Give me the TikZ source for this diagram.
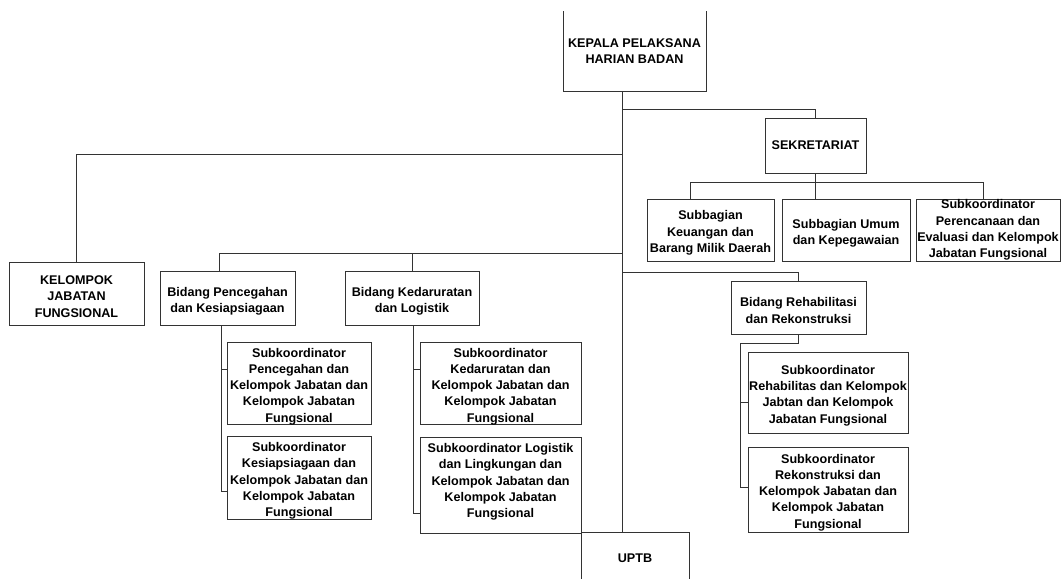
\documentclass[tikz,border=0pt]{standalone}
\usepackage{fontspec}
\setmainfont{Liberation Sans}
\newcommand{\lowstrut}{\rule{0pt}{15pt}}
\begin{document}
\begin{tikzpicture}[x=1pt,y=-1pt,
  box/.style={draw=black!80, line width=1pt, inner sep=0pt, align=center,
    font=\fontsize{12.6}{16.3}\selectfont\bfseries},
  high/.style={execute at end node={\rule[-9pt]{0pt}{1pt}}},
  link/.style={draw=black!80, line width=1pt}]

\useasboundingbox (0,0) rectangle (1062,578);
\clip (0,12) rectangle (1062,578);

% Pimpinan
  \node[box, minimum width=143pt, minimum height=80pt] (kepala) at (634.5,51) {KEPALA PELAKSANA\\HARIAN BADAN};
  \node[box, minimum width=101pt, minimum height=55pt] (sek) at (815.5,145.5) {SEKRETARIAT};
  \node[box, minimum width=135pt, minimum height=63pt] (kjf) at (76.5,293.5) {\lowstrut KELOMPOK\\JABATAN\\FUNGSIONAL};
  \node[box, minimum width=108pt, minimum height=52pt] (uptb) at (635,558) {UPTB};

% Sekretariat
  \node[box, minimum width=127pt, minimum height=62pt] (sb1) at (710.5,230) {\lowstrut Subbagian\\Keuangan dan\\Barang Milik Daerah};
  \node[box, minimum width=128pt, minimum height=62pt] (sb2) at (846,230) {\lowstrut Subbagian Umum\\dan Kepegawaian};
  \node[box, minimum width=144pt, minimum height=62pt] (sb3) at (988,230) {Subkoordinator\\Perencanaan dan\\Evaluasi dan Kelompok\\Jabatan Fungsional};

% Bidang
  \node[box, minimum width=135pt, minimum height=54pt] (bp) at (227.5,298) {\lowstrut Bidang Pencegahan\\dan Kesiapsiagaan};
  \node[box, minimum width=134pt, minimum height=54pt] (bk) at (412,298) {\lowstrut Bidang Kedaruratan\\dan Logistik};
  \node[box, minimum width=135pt, minimum height=53pt] (br) at (798.5,307.5) {\lowstrut Bidang Rehabilitasi\\dan Rekonstruksi};

  \node[box, minimum width=144pt, minimum height=81pt] (sp1) at (299,383.5) {\lowstrut Subkoordinator\\Pencegahan dan\\Kelompok Jabatan dan\\Kelompok Jabatan\\Fungsional};
  \node[box, minimum width=144pt, minimum height=82pt] (sp2) at (299,478) {\lowstrut Subkoordinator\\Kesiapsiagaan dan\\Kelompok Jabatan dan\\Kelompok Jabatan\\Fungsional};
  \node[box, minimum width=161pt, minimum height=81pt] (sk1) at (500.5,383.5) {\lowstrut Subkoordinator\\Kedaruratan dan\\Kelompok Jabatan dan\\Kelompok Jabatan\\Fungsional};
  \node[box, high, minimum width=161pt, minimum height=96pt] (sk2) at (500.5,485) {Subkoordinator Logistik\\dan Lingkungan dan\\Kelompok Jabatan dan\\Kelompok Jabatan\\Fungsional};
  \node[box, minimum width=160pt, minimum height=81pt] (sr1) at (828,392.5) {\lowstrut Subkoordinator\\Rehabilitas dan Kelompok\\Jabtan dan Kelompok\\Jabatan Fungsional};
  \node[box, minimum width=160pt, minimum height=85pt] (sr2) at (828,489.5) {\lowstrut Subkoordinator\\Rekonstruksi dan\\Kelompok Jabatan dan\\Kelompok Jabatan\\Fungsional};

% Garis
  \coordinate (trunk) at (622,91);
  \draw[link] (trunk) -- (uptb.north -| trunk);
  \draw[link] (trunk |- 0,109) -| (sek.north);
  \draw[link] (trunk |- 0,154) -| (kjf.north);
  \draw[link] (trunk |- 0,253) -| ([xshift=-8.5pt]bp.north);
  \draw[link] (bk.north) |- (trunk |- 0,253);
  \draw[link] (trunk |- 0,272) -| (br.north);

  \draw[link] (sek.south) -- ++(0,9) coordinate (jsub);
  \draw[link] ([xshift=-20.5pt]sb1.north) |- (jsub) -| ([xshift=-5pt]sb3.north);
  \draw[link] (jsub) -- (sb2.north -| jsub);

  \draw[link] ([xshift=-6.5pt]bp.south) |- ([yshift=-13pt]sp2.west);
  \draw[link] ([xshift=-6.5pt]bp.south) |- ([yshift=14.5pt]sp1.west);
  \draw[link] ([xshift=1pt]bk.south) |- ([yshift=-28pt]sk2.west);
  \draw[link] ([xshift=1pt]bk.south) |- ([yshift=14.5pt]sk1.west);

  \draw[link] (br.south) -- ++(0,9) -| ([xshift=-7pt,yshift=2.5pt]sr2.west) -- ([yshift=2.5pt]sr2.west);
  \draw[link] ([xshift=-7pt,yshift=-9.5pt]sr1.west) -- ([yshift=-9.5pt]sr1.west);

\end{tikzpicture}
\end{document}
